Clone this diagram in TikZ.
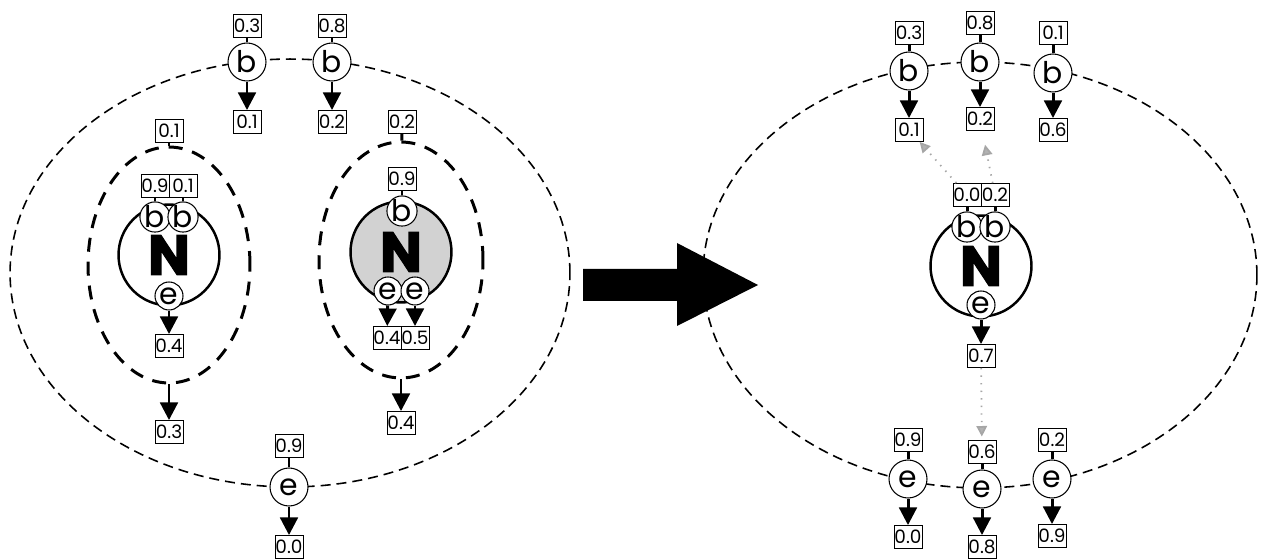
\documentclass[tikz,border=0pt]{standalone}
\usepackage{fontspec}
\setmainfont{Poppins}
\newfontfamily\heavyfont{Poppins}[BoldFeatures={FakeBold=2}]
\usetikzlibrary{arrows.meta,shapes.geometric}

\tikzset{
  val/.style={draw, line width=0.5pt, fill=white, inner sep=0pt,
    minimum width=0.56cm, minimum height=0.46cm,
    font=\fontsize{10.5}{11}\selectfont},
  site/.style={circle, draw, line width=0.6pt, fill=white, inner sep=0pt,
    minimum size=0.76cm, font=\fontsize{17}{17}\selectfont},
  subsite/.style={site, minimum size=0.56cm},
  atom/.style={circle, draw, line width=1.4pt, inner sep=0pt,
    minimum size=2.02cm, font=\heavyfont\bfseries\fontsize{32}{32}\selectfont},
  shell/.style={ellipse, draw, line width=0.9pt, dash pattern=on 0.2cm off 0.12cm},
  subshell/.style={ellipse, draw, line width=1.7pt, dash pattern=on 0.28cm off 0.2cm},
  stem/.style={line width=1.7pt},
  prob/.style={line width=1.7pt, -{Triangle[length=10pt,width=10pt]}},
  hint/.style={gray!70, line width=1pt, dash pattern=on 0.8pt off 3.5pt,
    -{Triangle[length=6pt,width=6pt,fill=gray!60]}}
}

\begin{document}
\begin{tikzpicture}[x=0.02cm, y=-0.02cm]
\useasboundingbox (0,0) rectangle (1262,560);

% shells
\node[shell, minimum width=11.2cm, minimum height=8.56cm] (molL) at (290,273) {};
\node[subshell, minimum width=3.24cm, minimum height=4.72cm] (ringA) at (169,265) {};
\node[subshell, minimum width=3.28cm, minimum height=4.72cm] (ringB) at (401,260) {};
\node[shell, minimum width=11.08cm, minimum height=8.52cm] (molR) at (980,275) {};

% atoms
\node[atom] (atomA) at (169,255) {N};
\node[atom, fill=gray!35] (atomB) at (401,252) {N};
\node[atom] (atomC) at (981,266) {N};

% left molecule, outer sites
\node[site] (bL1) at (247,62) {b};
\node[site] (bL2) at (332,62) {b};
\node[site] (eL) at (289,487) {e};
\node[val] (vL1) at (247,26) {0.3};
\node[val] (wL1) at (247,122) {0.1};
\node[val] (vL2) at (332,26) {0.8};
\node[val] (wL2) at (332,122) {0.2};
\node[val] (vL3) at (289,446) {0.9};
\node[val] (wL3) at (289,547) {0.0};

% first nitrogen
\node[subsite] (bA1) at (155,217) {b};
\node[subsite] (bA2) at (183,217) {b};
\node[subsite] (eA) at (169,296) {e};
\node[val] (vA1) at (155,186) {0.9};
\node[val] (vA2) at (183,186) {0.1};
\node[val] (wA) at (169,346) {0.4};
\node[val] (tA) at (169,131) {0.1};
\node[val] (sA) at (169,432) {0.3};

% second nitrogen
\node[subsite] (bB) at (402,211) {b};
\node[subsite] (eB1) at (388,291) {e};
\node[subsite] (eB2) at (415,291) {e};
\node[val] (vB) at (402,179) {0.9};
\node[val] (wB1) at (387,338) {0.4};
\node[val] (wB2) at (415,338) {0.5};
\node[val] (tB) at (402,122) {0.2};
\node[val] (sB) at (401,423) {0.4};

% right molecule, outer sites
\node[site] (bR1) at (909,71) {b};
\node[site] (bR2) at (980,62) {b};
\node[site] (bR3) at (1053,73) {b};
\node[val] (vR1) at (909,33) {0.3};
\node[val] (wR1) at (909,130) {0.1};
\node[val] (vR2) at (980,23) {0.8};
\node[val] (wR2) at (980,119) {0.2};
\node[val] (vR3) at (1053,33) {0.1};
\node[val] (wR3) at (1053,130) {0.6};
\node[site] (eR1) at (908,479) {e};
\node[site] (eR2) at (982,489) {e};
\node[site] (eR3) at (1052,479) {e};
\node[val] (uR1) at (908,440) {0.9};
\node[val] (xR1) at (908,537) {0.0};
\node[val] (uR2) at (982,452) {0.6};
\node[val] (xR2) at (982,547) {0.8};
\node[val] (uR3) at (1052,440) {0.2};
\node[val] (xR3) at (1052,536) {0.9};

% merged nitrogen
\node[subsite] (bC1) at (967,227) {b};
\node[subsite] (bC2) at (995,227) {b};
\node[subsite] (eC) at (981,305) {e};
\node[val] (vC1) at (967,195) {0.0};
\node[val] (vC2) at (995,195) {0.2};
\node[val] (wC) at (981,356) {0.7};

% stems
\foreach \v/\s in {vL1/bL1, vL2/bL2, vL3/eL, vA1/bA1, vA2/bA2, tA/ringA,
    vB/bB, tB/ringB, vR1/bR1, vR2/bR2, vR3/bR3, uR1/eR1, uR2/eR2, uR3/eR3,
    vC1/bC1, vC2/bC2}
  \draw[stem] (\v) -- (\s);

% arrows
\foreach \s/\w in {bL1/wL1, bL2/wL2, eL/wL3, eA/wA, ringA/sA, eB1/wB1,
    eB2/wB2, ringB/sB, bR1/wR1, bR2/wR2, bR3/wR3, eR1/xR1, eR2/xR2,
    eR3/xR3, eC/wC}
  \draw[prob] (\s) -- (\w);

% passing on
\draw[hint] (vC1) -- (wR1);
\draw[hint, shorten >=8pt] (vC2) -- (wR2);
\draw[hint, shorten >=2pt] (wC) -- (uR2);

% step to the right
\fill (583,269) -- (677,269) -- (677,243) -- (758,285) -- (677,326)
  -- (677,301) -- (583,301) -- cycle;

\end{tikzpicture}
\end{document}
